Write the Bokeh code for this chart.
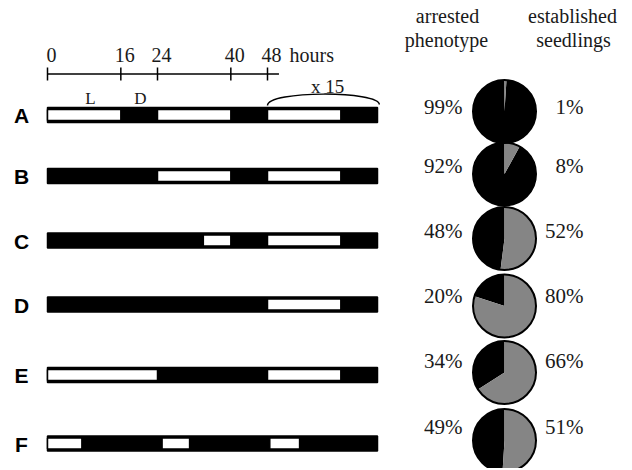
import math
from bokeh.plotting import figure
from bokeh.models import Range1d, ColumnDataSource
from bokeh.core.properties import value
from bokeh.embed import file_html
from bokeh.resources import INLINE

# ---------------- data ----------------
rows = ["A", "B", "C", "D", "E", "F"]
total_hours = 72
light_A = [(0, 16), (24, 40), (48, 64)]
light_B = [(24, 40), (48, 64)]
light_C = [(34, 40), (48, 64)]
light_D = [(48, 64)]
light_E = [(0, 24), (48, 64)]
light_F = [(0, 7.5), (25, 31), (48.5, 55)]
light_periods = [light_A, light_B, light_C, light_D, light_E, light_F]
arrested = [99, 92, 48, 20, 34, 49]
established = [1, 8, 52, 80, 66, 51]
tick_hours = [0, 16, 24, 40, 48]
tick_labels = ["0", "16", "24", "40", "48"]
repeat_start, repeat_end = 48, 72
repeat_label = "x 15"

# ---------------- layout ----------------
W, H = 630, 468
hour0_px = 47
px_per_hour = 330 / 72
bar_y = [114.5, 175.5, 240, 304, 374.5, 443]
bar_h = 15
pie_y = [111, 173.5, 238, 305.5, 372, 440]
pct_y = [113, 172, 237, 302, 367, 433]
pie_x = 504
pie_r = 31.5
left_pct_x = 462
right_pct_x = 583
letter_x = 21
axis_y = 73.5
TY = -7  # text baseline correction
GRAY = "#858585"
TXT = "#1a1a1a"
SERIF = value("Liberation Serif")

p = figure(width=W, height=H, output_backend="svg", toolbar_location=None,
           x_axis_type=None, y_axis_type=None, min_border=0,
           x_range=Range1d(-hour0_px / px_per_hour, (W - hour0_px) / px_per_hour),
           y_range=Range1d(H, 0))
p.extra_x_ranges = {"px": Range1d(0, W)}
p.grid.visible = False
p.outline_line_color = None
p.background_fill_color = "white"
p.border_fill_color = "white"

# ---- light/dark bars ----
p.hbar(y=bar_y, left=[0] * len(rows), right=[total_hours] * len(rows),
       height=bar_h, fill_color="black", line_color="black", line_width=1.5)
ly, ll, lr = [], [], []
for yy, periods in zip(bar_y, light_periods):
    for a, b in periods:
        ly.append(yy); ll.append(a); lr.append(b)
p.hbar(y=ly, left=ll, right=lr, height=bar_h - 4, fill_color="white",
       line_color="black", line_width=1.5)

# row letters
p.text(x=[letter_x] * len(rows), y=[b + 7.5 + TY for b in bar_y], text=rows,
       x_range_name="px", text_font=value("Liberation Sans"), text_font_style="bold",
       text_font_size="21px", text_align="center", text_baseline="alphabetic",
       text_color="black")

# ---- time axis ----
p.segment(x0=[tick_hours[0]], y0=[axis_y], x1=[50.5], y1=[axis_y],
          line_color="black", line_width=1.5)
p.segment(x0=tick_hours, y0=[axis_y - 6.5] * len(tick_hours), x1=tick_hours,
          y1=[axis_y + 6.5] * len(tick_hours), line_color="black", line_width=1.5)
p.text(x=tick_hours, y=[61 + TY] * len(tick_hours), text=tick_labels, x_offset=4,
       text_font=SERIF, text_font_size="20px", text_align="center",
       text_baseline="alphabetic", text_color=TXT)
p.text(x=[289], y=[61 + TY], text=["hours"], x_range_name="px", text_font=SERIF,
       text_font_size="20px", text_align="left", text_baseline="alphabetic",
       text_color=TXT)
p.text(x=[90, 140], y=[104.5 + TY] * 2, text=["L", "D"], x_range_name="px",
       text_font=SERIF, text_font_size="17px", text_align="center",
       text_baseline="alphabetic", text_color=TXT)

# repeat brace
p.bezier(x0=[repeat_start], y0=[105], x1=[repeat_end + 0.4], y1=[104],
         cx0=[repeat_start], cy0=[90], cx1=[repeat_end + 0.4], cy1=[90],
         line_color="black", line_width=1.5)
p.text(x=[(repeat_start + repeat_end) / 2], y=[92.5 + TY], text=[repeat_label],
       x_offset=5, text_font=SERIF, text_font_size="19px", text_align="center",
       text_baseline="alphabetic", text_color=TXT)

# ---- headers ----
p.text(x=[447, 446, 572, 573], y=[22.5 + TY, 46 + TY, 22.5 + TY, 46 + TY],
       text=["arrested", "phenotype", "established", "seedlings"],
       x_range_name="px", text_font=SERIF, text_font_size="20px",
       text_align="center", text_baseline="alphabetic", text_color=TXT)

# ---- pies ----
n = len(rows)
split = [math.radians(90 + a * 3.6) for a in arrested]
src = ColumnDataSource(dict(x=[pie_x] * n, y=pie_y,
                            a0=[math.radians(90)] * n, a1=split,
                            g0=split, g1=[math.radians(450)] * n))
p.wedge(x="x", y="y", radius=pie_r, start_angle="a0", end_angle="a1",
        direction="anticlock", fill_color="black", line_color=None,
        source=src, x_range_name="px")
p.wedge(x="x", y="y", radius=pie_r, start_angle="g0", end_angle="g1",
        direction="anticlock", fill_color=GRAY, line_color=None,
        source=src, x_range_name="px")
p.circle(x="x", y="y", radius=pie_r, fill_color=None, line_color="black",
         line_width=2, source=src, x_range_name="px")

p.text(x=[left_pct_x] * n, y=[v + TY for v in pct_y], text=[f"{v}%" for v in arrested],
       x_range_name="px", text_font=SERIF, text_font_size="21px",
       text_align="right", text_baseline="alphabetic", text_color=TXT)
p.text(x=[right_pct_x] * n, y=[v + TY for v in pct_y], text=[f"{v}%" for v in established],
       x_range_name="px", text_font=SERIF, text_font_size="21px",
       text_align="right", text_baseline="alphabetic", text_color=TXT)

open("out.html", "w").write(file_html(p, INLINE))
